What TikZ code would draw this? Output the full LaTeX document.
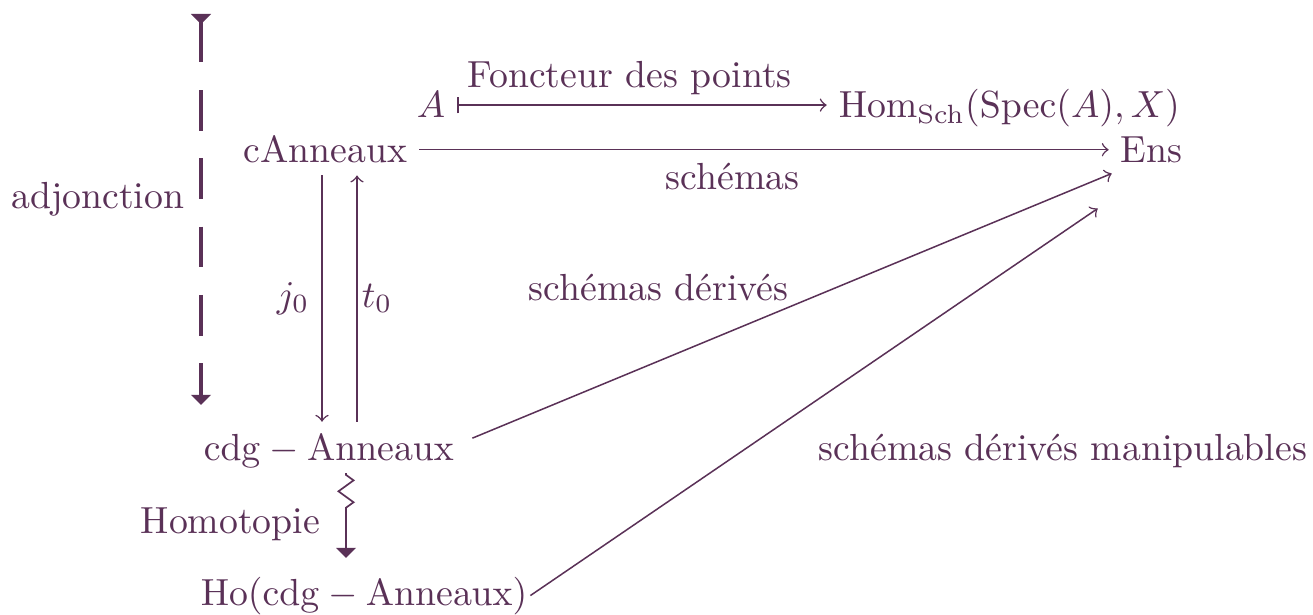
\documentclass[tikz,border=0pt]{standalone}
\usetikzlibrary{arrows.meta,decorations.pathmorphing,calc}
\definecolor{plum}{HTML}{5A3157}
\tikzset{bigtip/.tip={Triangle[width=5.2pt,length=2.7pt]},
  bigtiprev/.tip={Triangle[reversed,width=5.2pt,length=2.7pt]}}
\begin{document}
\begin{tikzpicture}[x=0.265pt,y=-0.265pt,
  every node/.style={text=plum},
  lbl/.style={inner sep=0pt},
  obj/.style={inner sep=3pt},
  arr/.style={draw=plum,line width=0.4pt,-to}]
\useasboundingbox (0,0) rectangle (1313,614);
% objects
\node[obj,anchor=base west] (cA) at (231.7,163) {cAnneaux};
\node[obj,anchor=base west] (Ens) at (1108.7,163) {Ens};
\node[obj,anchor=base east] (A) at (457.3,118) {$A$};
\node[obj,anchor=base west] (Hom) at (826.7,118) {$\mathrm{Hom}_{\mathrm{Sch}}(\mathrm{Spec}(A),X)$};
\node[obj,anchor=base west] (cdg) at (191.7,460) {$\mathrm{cdg}-\mathrm{Anneaux}$};
\node[obj,anchor=base west] (Ho) at (188.7,605) {$\mathrm{Ho}(\mathrm{cdg}-\mathrm{Anneaux})$};
% labels
\node[lbl,anchor=base west] (lfp) at (467,88) {Foncteur des points};
\node[lbl,anchor=base west] (lsch) at (665,190) {schémas};
\node[lbl,anchor=base west] (lsd) at (528,300) {schémas dérivés};
\node[lbl,anchor=base west] (lsdm) at (818,460) {schémas dérivés manipulables};
\node[lbl,anchor=base west] (lhom) at (140,533) {Homotopie};
\node[lbl,anchor=base east] (ladj) at (185,209) {adjonction};
\node[lbl,anchor=base east] (lj) at (310,307) {$j_0$};
\node[lbl,anchor=base west] (lt) at (361,307) {$t_0$};
% helper coordinates
\coordinate (xj) at (322,0);
\coordinate (xt) at (357,0);
\coordinate (dtop) at (201,14);
\coordinate (dbot) at (201,405);
\coordinate (ztop) at (346,473);
\coordinate (zmid) at (346,515);
\coordinate (zbot) at (346,558);
% connectors
\draw[draw=plum,line width=0.4pt,{Bar[width=4.4pt]}-to] (A.east) -- (A.east -| Hom.west);
\draw[arr] (cA.east) -- (cA.east -| Ens.west);
\draw[arr] (cA.south -| xj) -- (cdg.north -| xj);
\draw[arr] (cdg.north -| xt) -- (cA.south -| xt);
\draw[arr] ([shift={(6.5,-12.4)}]cdg.east) -- ([shift={(3,-2)}]Ens.south west);
\draw[arr] ([shift={(-9,0)}]Ho.east) -- ([shift={(-11,33)}]Ens.south west);
% adjunction dashed
\draw[draw=plum,line width=0.85pt,dash pattern=on 10.8pt off 7.3pt,dash phase=0pt,
  {bigtiprev}-{bigtip}] (dtop) -- (dbot);
% homotopy zigzag
\draw[draw=plum,line width=0.45pt,decorate,decoration={zigzag,segment length=5.8pt,amplitude=2pt,pre length=0.5pt,post length=0.5pt}] (ztop) -- (zmid);
\draw[draw=plum,line width=0.45pt,-{bigtip}] (zmid) -- (zbot);
\end{tikzpicture}
\end{document}
